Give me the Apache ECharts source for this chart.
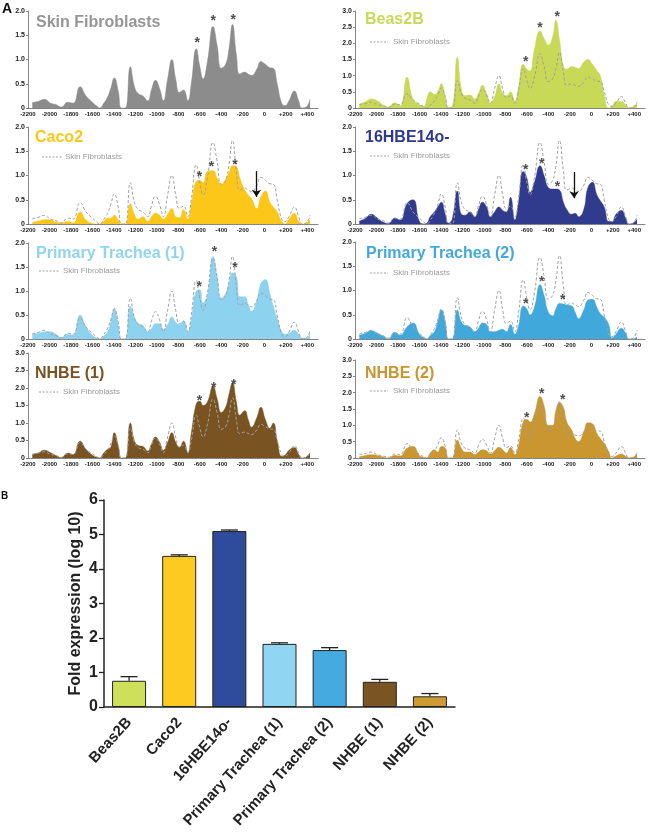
<!DOCTYPE html>
<html>
<head>
<meta charset="utf-8">
<script src="https://cdn.jsdelivr.net/npm/echarts@6/dist/echarts.min.js"></script>
<style>html,body{margin:0;padding:0;background:#fff}#c{width:649px;height:832px}</style>
</head>
<body>
<div id="c"></div>
<script>
// ---------- DATA ----------
const positions = [
  -2160, -2100, -2050, -1990, -1940, -1890, -1830, -1780, -1715, -1660,
  -1600, -1560, -1530, -1500, -1460, -1430, -1396, -1360, -1330, -1295,
  -1247, -1210, -1175, -1130, -1085, -1050, -1013, -975, -940, -900,
  -860, -825, -790, -752, -712, -680, -633, -600, -570, -530,
  -477, -440, -400, -360, -330, -296, -260, -228, -182, -150,
  -119, -70, -32, 10, 52, 84, 120, 162, 193, 230,
  280, 320, 350, 390, 426];

const skinFibroblasts = [
  0.11, 0.14, 0.18, 0.10, 0.07, 0.02, 0.12, 0.10, 0.44, 0.25,
  0.12, 0.04, 0.00, 0.08, 0.22, 0.40, 0.62, 0.35, 0.00, 0.00,
  0.85, 0.45, 0.30, 0.25, 0.15, 0.38, 0.57, 0.40, 0.15, 0.60,
  1.00, 0.60, 0.32, 0.37, 0.15, 0.50, 1.22, 0.85, 0.60, 0.95,
  1.68, 1.30, 0.82, 0.90, 1.20, 1.72, 1.10, 0.70, 0.74, 0.70,
  0.67, 0.80, 0.96, 0.90, 0.83, 0.82, 0.50, 0.10, 0.05, 0.15,
  0.35, 0.15, 0.00, 0.02, 0.18];

const beas2B = [
  0.12, 0.20, 0.28, 0.22, 0.10, 0.03, 0.16, 0.06, 0.95, 0.28,
  0.10, 0.05, 0.30, 0.50, 0.42, 0.50, 0.75, 0.35, 0.02, 0.05,
  1.57, 0.60, 0.38, 0.40, 0.28, 0.45, 0.70, 0.45, 0.15, 0.35,
  0.75, 0.45, 0.38, 0.50, 0.20, 0.60, 1.35, 1.20, 1.15, 1.80,
  2.38, 2.15, 1.95, 2.20, 2.72, 2.10, 1.30, 1.20, 1.28, 1.25,
  1.22, 1.42, 1.50, 1.35, 1.15, 1.00, 0.40, 0.00, 0.05, 0.20,
  0.20, 0.10, 0.00, 0.05, 0.15];

const caco2 = [
  0.03, 0.06, 0.09, 0.08, 0.04, 0.02, 0.05, 0.02, 0.25, 0.08,
  0.01, 0.00, 0.00, 0.05, 0.12, 0.12, 0.18, 0.08, 0.00, 0.00,
  0.42, 0.20, 0.10, 0.15, 0.05, 0.15, 0.22, 0.18, 0.10, 0.20,
  0.32, 0.15, 0.13, 0.30, 0.10, 0.40, 0.88, 0.90, 0.85, 1.08,
  1.10, 0.95, 0.82, 0.92, 1.05, 1.20, 1.18, 0.95, 0.70, 0.60,
  0.52, 0.32, 0.55, 0.68, 0.45, 0.35, 0.25, 0.05, 0.00, 0.10,
  0.22, 0.05, 0.00, 0.02, 0.08];

const hbe16 = [
  0.06, 0.12, 0.20, 0.12, 0.04, 0.01, 0.12, 0.08, 0.42, 0.50,
  0.05, 0.00, 0.02, 0.15, 0.25, 0.35, 0.45, 0.20, 0.02, 0.10,
  0.68, 0.20, 0.18, 0.25, 0.15, 0.30, 0.45, 0.35, 0.15, 0.25,
  0.35, 0.28, 0.25, 0.55, 0.08, 0.40, 1.08, 0.95, 0.65, 0.85,
  1.20, 1.00, 0.75, 0.72, 0.72, 0.70, 0.45, 0.30, 0.20, 0.22,
  0.15, 0.30, 0.75, 0.86, 0.60, 0.48, 0.35, 0.05, 0.05, 0.20,
  0.28, 0.12, 0.00, 0.02, 0.10];

const trachea1 = [
  0.10, 0.12, 0.15, 0.15, 0.10, 0.03, 0.10, 0.08, 0.50, 0.25,
  0.08, 0.02, 0.00, 0.05, 0.15, 0.35, 0.64, 0.30, 0.00, 0.00,
  0.68, 0.45, 0.33, 0.28, 0.15, 0.22, 0.32, 0.32, 0.20, 0.30,
  0.46, 0.35, 0.30, 0.38, 0.15, 0.40, 1.00, 1.02, 0.75, 0.90,
  1.72, 1.30, 0.85, 0.95, 1.15, 1.38, 1.30, 0.88, 0.88, 0.72,
  0.58, 0.80, 1.15, 1.24, 0.95, 0.68, 0.42, 0.15, 0.10, 0.12,
  0.18, 0.10, 0.02, 0.02, 0.12];

const trachea2 = [
  0.08, 0.12, 0.17, 0.12, 0.06, 0.00, 0.14, 0.08, 0.25, 0.33,
  0.10, 0.03, 0.00, 0.07, 0.15, 0.35, 0.60, 0.35, 0.00, 0.00,
  0.60, 0.35, 0.28, 0.25, 0.15, 0.22, 0.33, 0.30, 0.15, 0.15,
  0.18, 0.20, 0.15, 0.30, 0.10, 0.25, 0.68, 0.62, 0.50, 0.65,
  1.12, 0.90, 0.55, 0.48, 0.62, 0.73, 0.72, 0.70, 0.68, 0.55,
  0.42, 0.60, 0.80, 0.82, 0.65, 0.52, 0.45, 0.30, 0.02, 0.10,
  0.22, 0.12, 0.00, 0.00, 0.05];

const nhbe1 = [
  0.10, 0.15, 0.22, 0.15, 0.07, 0.01, 0.14, 0.10, 0.48, 0.25,
  0.08, 0.02, 0.00, 0.12, 0.25, 0.30, 0.72, 0.35, 0.00, 0.00,
  1.00, 0.50, 0.36, 0.33, 0.20, 0.40, 0.60, 0.45, 0.22, 0.45,
  0.72, 0.45, 0.30, 0.48, 0.15, 0.70, 1.55, 1.62, 1.50, 1.60,
  2.05, 1.70, 1.30, 1.45, 1.80, 2.15, 1.60, 1.22, 1.35, 1.10,
  0.88, 1.15, 1.45, 1.10, 0.85, 1.00, 0.50, 0.05, 0.08, 0.22,
  0.30, 0.10, 0.00, 0.03, 0.15];

const nhbe2 = [
  0.04, 0.08, 0.10, 0.08, 0.04, 0.00, 0.08, 0.06, 0.30, 0.35,
  0.08, 0.02, 0.00, 0.15, 0.25, 0.18, 0.35, 0.30, 0.00, 0.00,
  0.55, 0.30, 0.18, 0.18, 0.10, 0.18, 0.25, 0.22, 0.12, 0.22,
  0.33, 0.25, 0.15, 0.32, 0.10, 0.35, 1.12, 1.18, 1.10, 1.35,
  1.88, 1.60, 1.00, 1.00, 1.45, 1.70, 1.55, 1.10, 0.85, 0.60,
  0.50, 0.80, 1.08, 1.05, 0.75, 0.60, 0.45, 0.20, 0.00, 0.06,
  0.12, 0.05, 0.00, 0.02, 0.15];

// star marks [position, height]
const starsSkin = [[-624, 1.39], [-475, 1.85], [-289, 1.87]];
const starsBeas2B = [[-610, 1.52], [-478, 2.55], [-318, 2.90]];
const starsCaco2 = [[-603, 1.02], [-491, 1.23], [-274, 1.28]];
const starsHbe16 = [[-610, 1.18], [-462, 1.30], [-314, 0.82]];
const starsTrachea1 = [[-607, 1.15], [-464, 1.88], [-272, 1.53]];
const starsTrachea2 = [[-610, 0.79], [-462, 1.23], [-265, 0.87]];
const starsNhbe1 = [[-603, 1.71], [-470, 2.07], [-284, 2.17]];
const starsNhbe2 = [[-601, 1.31], [-462, 2.06], [-265, 1.86]];

// arrows [position, from, to]
const arrowCaco2 = [-73, 1.09, 0.56];
const arrowHbe16 = [-160, 1.07, 0.53];

const panelNames = ['Skin Fibroblasts', 'Beas2B', 'Caco2', '16HBE14o-',
  'Primary Trachea (1)', 'Primary Trachea (2)', 'NHBE (1)', 'NHBE (2)'];
const panelMax = [2, 3, 2, 2, 2, 2, 3, 3];

// panel B
const categoriesB = ['Beas2B', 'Caco2', '16HBE14o-', 'Primary Trachea (1)',
  'Primary Trachea (2)', 'NHBE (1)', 'NHBE (2)'];
const foldValues = [0.76, 4.38, 5.10, 1.83, 1.65, 0.73, 0.31];
const foldErrors = [0.12, 0.03, 0.03, 0.03, 0.07, 0.07, 0.08];

// ---------- STYLE / LAYOUT ----------
const FONT = '"Liberation Sans", Arial, Helvetica, sans-serif';
const panelSeries = [skinFibroblasts, beas2B, caco2, hbe16, trachea1, trachea2, nhbe1, nhbe2];
const panelStars = [starsSkin, starsBeas2B, starsCaco2, starsHbe16, starsTrachea1, starsTrachea2, starsNhbe1, starsNhbe2];
const panelArrows = [null, null, arrowCaco2, arrowHbe16, null, null, null, null];
const fillColors = ['#8c8c8c', '#c8d957', '#fcc719', '#313b8d', '#8dd3f0', '#41a8dc', '#7a5323', '#c9962f'];
const titleColors = ['#969696', '#c8d955', '#fcc719', '#2f3a8e', '#8fd4f1', '#43a9dd', '#7a5324', '#c8952f'];
const layout = [
  {left: 28, top: 11, height: 97, tx: 36, ty: 15},
  {left: 355, top: 11, height: 97, tx: 365, ty: 12},
  {left: 28, top: 127, height: 97, tx: 35, ty: 130},
  {left: 355, top: 127, height: 97, tx: 365, ty: 130},
  {left: 28, top: 243, height: 96, tx: 36, ty: 246},
  {left: 355, top: 242, height: 97, tx: 366, ty: 246},
  {left: 28, top: 353, height: 105, tx: 35, ty: 366},
  {left: 355, top: 360, height: 98, tx: 365, ty: 366}
];
const legendPos = [null, [370, 388, 393, 42], [42, 62, 65, 157], [370, 389, 393, 156],
  [39, 60, 63, 271], [370, 388, 393, 273], [39, 60, 63, 392], [370, 388, 393, 391]];

const grids = [], xAxes = [], yAxes = [], series = [], titles = [], graphics = [];

panelNames.forEach((name, i) => {
  const L = layout[i];
  grids.push({left: L.left, top: L.top, width: 290, height: L.height});
  xAxes.push({
    gridIndex: i, type: 'value', min: -2200, max: 500, interval: 200,
    axisLine: {show: true, onZero: false, lineStyle: {color: '#666', width: 0.8}},
    axisTick: {show: false}, splitLine: {show: false},
    axisLabel: {fontSize: 6, fontWeight: 'bold', color: '#222', margin: 3, fontFamily: FONT,
      showMaxLabel: false,
      formatter: v => (v > 400 ? '' : (v > 0 ? '+' + v : String(v)))}
  });
  yAxes.push({
    gridIndex: i, type: 'value', min: 0, max: panelMax[i], interval: 0.5,
    axisLine: {show: true, onZero: false, lineStyle: {color: '#666', width: 0.8}},
    axisTick: {show: true, length: 2, lineStyle: {color: '#666', width: 0.8}},
    splitLine: {show: false},
    axisLabel: {fontSize: 7, fontWeight: 'bold', color: '#222', margin: 3, fontFamily: FONT,
      formatter: v => (v === 0 ? '0' : v.toFixed(1))}
  });
  series.push({
    type: 'line', xAxisIndex: i, yAxisIndex: i, name: name,
    data: positions.map((x, k) => [x, panelSeries[i][k]]),
    smooth: 0.5, symbol: 'none', silent: true, z: 2,
    lineStyle: {width: 0.5, color: fillColors[i]},
    areaStyle: {color: fillColors[i], opacity: 1}
  });
  if (i > 0) {
    series.push({
      type: 'line', xAxisIndex: i, yAxisIndex: i, name: 'Skin Fibroblasts',
      data: positions.map((x, k) => [x, skinFibroblasts[k]]),
      smooth: 0.5, symbol: 'none', silent: true, z: 3,
      lineStyle: {width: 1, color: '#a0a0a0', type: [3, 2]}
    });
  }
  const arrow = panelArrows[i];
  series.push({
    type: 'scatter', xAxisIndex: i, yAxisIndex: i, z: 5, silent: true,
    data: panelStars[i], symbolSize: 1, itemStyle: {color: 'rgba(0,0,0,0)'},
    label: {show: true, formatter: '*', position: 'inside', offset: [0, 3],
      fontSize: 14, fontWeight: 'bold', color: '#222', fontFamily: FONT},
    markLine: arrow ? {
      silent: true, symbol: ['none', 'arrow'], symbolSize: 7,
      lineStyle: {color: '#111', width: 1.3, type: 'solid'},
      label: {show: false},
      data: [[{coord: [arrow[0], arrow[1]]}, {coord: [arrow[0], arrow[2]]}]]
    } : undefined
  });
  titles.push({
    text: name, left: L.tx, top: L.ty, padding: 0,
    textStyle: {fontSize: 16, fontWeight: 'bold', color: titleColors[i], fontFamily: FONT}
  });
  const lg = legendPos[i];
  if (lg) {
    graphics.push({type: 'line', shape: {x1: lg[0], y1: lg[3], x2: lg[1], y2: lg[3]},
      style: {stroke: '#a0a0a0', lineWidth: 1, lineDash: [2, 1.5]}, silent: true});
    graphics.push({type: 'text', x: lg[2], y: lg[3], silent: true,
      style: {text: 'Skin Fibroblasts', fill: '#999', fontSize: 8, fontFamily: FONT, verticalAlign: 'middle'}});
  }
});

graphics.push({type: 'text', x: 2, y: 2, style: {text: 'A', fill: '#111', fontSize: 14, fontWeight: 'bold', fontFamily: FONT, verticalAlign: 'top'}});
graphics.push({type: 'text', x: 1, y: 491, style: {text: 'B', fill: '#111', fontSize: 10, fontWeight: 'bold', fontFamily: FONT, verticalAlign: 'top'}});

// panel B
const bIdx = 8;
grids.push({left: 104, top: 500, width: 351, height: 207});
xAxes.push({
  gridIndex: bIdx, type: 'category', data: categoriesB,
  axisLine: {lineStyle: {color: '#222', width: 1.5}},
  axisTick: {alignWithLabel: true, length: 5, lineStyle: {color: '#222', width: 1.3}},
  axisLabel: {rotate: 48, fontSize: 15, fontWeight: 'bold', color: '#222', margin: 13, fontFamily: FONT, interval: 0}
});
yAxes.push({
  gridIndex: bIdx, type: 'value', min: 0, max: 6, interval: 1,
  name: 'Fold expression (log 10)', nameLocation: 'middle', nameGap: 20, nameMoveOverlap: false,
  nameTextStyle: {fontSize: 16, fontWeight: 'bold', color: '#222', fontFamily: FONT},
  axisLine: {show: true, lineStyle: {color: '#222', width: 1.5}},
  axisTick: {show: true, length: 5, lineStyle: {color: '#222', width: 1.3}},
  splitLine: {show: false},
  axisLabel: {fontSize: 16, fontWeight: 'bold', color: '#222', margin: 6, fontFamily: FONT}
});
const barColors = ['#cddf5b', '#fdca22', '#2f4b9c', '#90d5f2', '#45aadf', '#7b5424', '#cd9a34'];
series.push({
  type: 'bar', xAxisIndex: bIdx, yAxisIndex: bIdx, barWidth: 34, silent: true,
  data: foldValues.map((v, i) => ({value: v, itemStyle: {color: barColors[i]}})),
  itemStyle: {borderColor: '#222', borderWidth: 1}
});
series.push({
  type: 'custom', xAxisIndex: bIdx, yAxisIndex: bIdx, silent: true, z: 5,
  data: foldValues.map((v, i) => [i, v, foldErrors[i]]),
  encode: {x: 0, y: 1},
  renderItem: function (params, api) {
    const i = api.value(0), v = api.value(1), e = api.value(2);
    const base = api.coord([i, v]);
    const top = api.coord([i, v + e]);
    const st = {stroke: '#222', lineWidth: 1.3};
    return {type: 'group', children: [
      {type: 'line', shape: {x1: base[0], y1: base[1], x2: top[0], y2: top[1]}, style: st},
      {type: 'line', shape: {x1: top[0] - 8.5, y1: top[1], x2: top[0] + 8.5, y2: top[1]}, style: st}
    ]};
  }
});

const chart = echarts.init(document.getElementById('c'), null, {renderer: 'canvas'});
chart.setOption({
  animation: false,
  backgroundColor: '#fff',
  title: titles,
  grid: grids, xAxis: xAxes, yAxis: yAxes, series: series,
  graphic: graphics
});
</script>
</body>
</html>
